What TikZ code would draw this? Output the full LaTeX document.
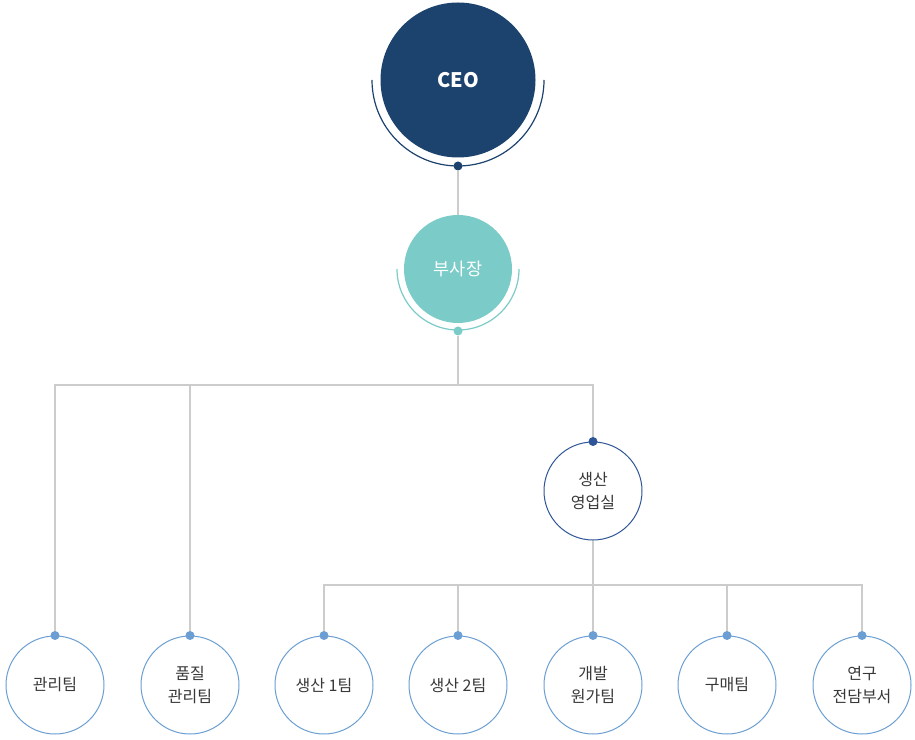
\documentclass[tikz,border=0pt]{standalone}
\usepackage{fontspec}
\setmainfont{Noto Sans CJK KR}
\usetikzlibrary{backgrounds}
\definecolor{ceoblue}{HTML}{1C426E}
\definecolor{vpteal}{HTML}{7BCCC8}
\definecolor{deptblue}{HTML}{2D5597}
\definecolor{teamblue}{HTML}{6B9FD3}
\definecolor{linegray}{HTML}{CCCCCC}
\definecolor{txtgray}{HTML}{383838}

\begin{document}
\begin{tikzpicture}[x=1pt,y=1pt,
    ceobox/.style={circle, fill=ceoblue, minimum size=155pt, inner sep=0pt, text=white, font=\fontsize{20}{24}\selectfont\bfseries},
    vpbox/.style={circle, fill=vpteal, minimum size=108pt, inner sep=0pt, text=white, font=\fontsize{17.5}{22}\selectfont},
    deptbox/.style={circle, draw=deptblue, fill=white, line width=1pt, minimum size=98pt, inner sep=0pt, align=center, text=txtgray, font=\fontsize{16}{22.5}\selectfont},
    teambox/.style={deptbox, draw=teamblue},
    joint/.style={circle, inner sep=0pt, minimum size=9pt},
    link/.style={draw=linegray, line width=1.8pt},
    halo/.style={line width=1.2pt}]
  \useasboundingbox (0,0) rectangle (915,739);

        \node (ceo) at (458,659) [ceobox] {CEO};
      \node (ceodot) at (458,573) [joint, fill=ceoblue] {};
      \node (vp) at (458,470) [vpbox] {부사장};
      \node (vpdot) at (458,408) [joint, fill=vpteal] {};
      \node (sales) at (593,248) [deptbox] {생산\\영업실};
      \node (salesdot) at (sales.north) [joint, fill=deptblue] {};
      \coordinate (fork1) at (458,354);
      \coordinate (fork2) at (593,154);

      \draw[halo, ceoblue] (ceo.center) ++(180:86pt) arc[start angle=180, end angle=360, radius=86pt];
      \draw[halo, vpteal] (vp.center) ++(180:61pt) arc[start angle=180, end angle=360, radius=61pt];

      \foreach \x/\n/\t in {55/mgmt/관리팀, 190/qual/{품질\\관리팀}, 324/prod1/{생산 1팀}, 458/prod2/{생산 2팀},
                            593/dev/{개발\\원가팀}, 727/buy/구매팀, 862/lab/{연구\\전담부서}} {
        \node (\n) at (\x,54) [teambox] {\t};
        \node (\n dot) at (\n.north) [joint, fill=teamblue] {};
      }

      \begin{scope}[on background layer]
        \draw[link] (ceodot) -- (vp.north);
        \draw[link] (vpdot) -- (fork1);
        \draw[link] (fork1) -| (mgmtdot);
        \draw[link] (fork1) -| (qualdot);
        \draw[link] (fork1) -| (salesdot);
        \draw[link] (sales.south) -- (fork2);
        \foreach \n in {prod1,prod2,dev,buy,lab}
          \draw[link] (fork2) -| (\n dot);
      \end{scope}

        \end{tikzpicture}
\end{document}
